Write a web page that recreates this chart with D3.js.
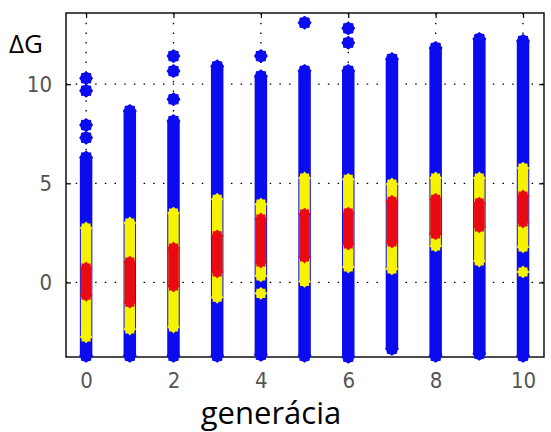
<!DOCTYPE html>
<html><head><meta charset="utf-8">
<script src="https://cdn.jsdelivr.net/npm/d3@7"></script>
<style>body{margin:0;background:#fff}</style>
</head><body><svg id="c" width="551" height="432"></svg>
<script>
// ---- data ----
const generations = [0,1,2,3,4,5,6,7,8,9,10];
const blueMin   = [-3.7,-3.7,-3.7,-3.7,-3.65,-3.7,-3.75,-3.35,-3.7,-3.6,-3.7];
const blueMax   = [6.3,8.65,8.14,10.9,10.4,10.67,10.67,11.27,11.83,12.28,12.18];
const blueOutliers = [[0,10.3],[0,9.67],[0,7.94],[0,7.3],[2,11.42],[2,10.66],[2,9.24],[4,11.42],[5,13.1],[6,12.82],[6,12.09]];
const yellowMin = [-2.75,-2.35,-2.25,-0.75,0.33,0.05,0.78,0.68,1.84,1.08,1.79];
const yellowMax = [2.75,3.0,3.5,4.2,3.95,5.27,5.2,4.97,5.27,5.27,5.77];
const yellowOutliers = [[4,-0.55],[10,0.53]];
const redMin    = [-0.65,-1.0,-0.18,0.53,1.03,1.28,1.94,2.04,2.45,2.8,3.05];
const redMax    = [0.73,1.03,1.74,2.35,3.2,3.45,3.5,4.1,4.2,4.0,4.36];
const xTicks = [0,2,4,6,8,10];
const yTicks = [0,5,10];
const yLabel = "ΔG";
const xLabel = "generácia";

// ---- layout ----
const svg = d3.select("#c");
const L = 66, R = 544, T = 13, B = 357;
const x = d3.scaleLinear().domain([-0.46, 10.48]).range([L, R]);
const y = d3.scaleLinear().domain([-3.76, 13.59]).range([B, T]);
const BLUE = "#0b0bef", YEL = "#f6f200", RED = "#ea0a14";

function star(R0, r0) {
  const pts = [];
  for (let i = 0; i < 16; i++) {
    const a = i * Math.PI / 8 - Math.PI / 2;
    const rr = i % 2 === 0 ? R0 : r0;
    pts.push([rr * Math.cos(a), rr * Math.sin(a)]);
  }
  return "M" + pts.map(p => p[0].toFixed(2) + "," + p[1].toFixed(2)).join("L") + "Z";
}

// grid
const grid = svg.append("g").attr("stroke", "#000").attr("stroke-width", 1.3)
  .attr("stroke-dasharray", "1.5,8.2");
grid.selectAll("line.v").data(xTicks).join("line").attr("class","v")
  .attr("x1", d => x(d)).attr("x2", d => x(d)).attr("y1", T).attr("y2", B);
grid.selectAll("line.h").data(yTicks).join("line").attr("class","h")
  .attr("x1", L).attr("x2", R).attr("y1", d => y(d)).attr("y2", d => y(d));

// axes
const tickFont = '"Liberation Sans Narrow","DejaVu Sans Condensed",sans-serif';
function styleAxis(g) {
  g.select(".domain").remove();
  g.selectAll("line").attr("stroke", "#000").attr("stroke-width", 1.2);
  g.selectAll("text").attr("fill", "#555").style("font-family", tickFont).style("font-size", "22px");
}
svg.append("g").attr("transform", `translate(0,${B})`)
  .call(d3.axisBottom(x).tickValues(xTicks).tickSize(-5).tickPadding(15)).call(styleAxis);
svg.append("g").attr("transform", `translate(0,${T})`)
  .call(d3.axisTop(x).tickValues(xTicks).tickSize(-5).tickFormat("")).call(styleAxis);
svg.append("g").attr("transform", `translate(${L},0)`)
  .call(d3.axisLeft(y).tickValues(yTicks).tickSize(-5).tickPadding(14)).call(styleAxis);
svg.append("g").attr("transform", `translate(${R},0)`)
  .call(d3.axisRight(y).tickValues(yTicks).tickSize(-5).tickFormat("")).call(styleAxis);
svg.append("rect").attr("x", L).attr("y", T).attr("width", R - L).attr("height", B - T)
  .attr("fill", "none").attr("stroke", "#000").attr("stroke-width", 1.4);

// columns
function drawRanges(cls, mins, maxs, color, w, Rs, rs) {
  const g = svg.append("g").attr("class", cls).attr("fill", color);
  const data = generations.map((gen, i) => ({gen, lo: mins[i], hi: maxs[i]}));
  g.selectAll("rect").data(data).join("rect")
    .attr("x", d => x(d.gen) - w / 2).attr("width", w)
    .attr("y", d => y(d.hi)).attr("height", d => y(d.lo) - y(d.hi));
  const ends = data.flatMap(d => [[d.gen, d.lo], [d.gen, d.hi]]);
  g.selectAll("path").data(ends).join("path")
    .attr("d", star(Rs, rs)).attr("transform", d => `translate(${x(d[0])},${y(d[1])})`);
  return g;
}
function drawPoints(pts, color, Rs, rs) {
  svg.append("g").attr("fill", color).selectAll("path").data(pts).join("path")
    .attr("d", star(Rs, rs)).attr("transform", d => `translate(${x(d[0])},${y(d[1])})`);
}
drawRanges("blue", blueMin, blueMax, BLUE, 12.5, 7, 5.8);
drawPoints(blueOutliers, BLUE, 7, 5.8);
drawRanges("yellow", yellowMin, yellowMax, YEL, 10.5, 6.4, 4.9);
drawPoints(yellowOutliers, YEL, 6.4, 4.9);
drawRanges("red", redMin, redMax, RED, 10.5, 6.4, 4.9);

// labels
svg.append("text").attr("x", 9).attr("y", 53).text(yLabel)
  .style("font-family", '"Open Sans",sans-serif').style("font-size", "26px").attr("fill", "#000");
svg.append("text").attr("x", 271).attr("y", 424).attr("text-anchor", "middle").text(xLabel)
  .style("font-family", '"Open Sans",sans-serif').style("font-size", "31px").attr("fill", "#000");
</script></body></html>
